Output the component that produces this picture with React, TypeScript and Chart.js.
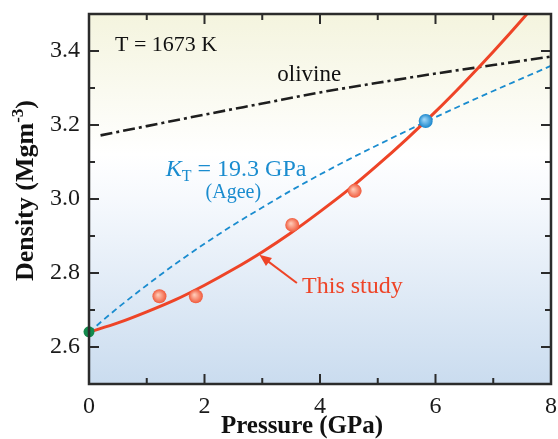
import React, { useEffect, useRef } from "react";
import { Chart, registerables } from "chart.js";

Chart.register(...registerables);

// ---- data ----
const pressureGrid = [0, 0.5, 1, 1.5, 2, 2.5, 3, 3.5, 4, 4.5, 5, 5.5, 6, 6.5, 7, 7.5, 8];
const thisStudyDensity = [2.64, 2.665, 2.695, 2.728, 2.767, 2.81, 2.857, 2.909, 2.966, 3.026, 3.092, 3.162, 3.236, 3.315, 3.398, 3.485, 3.578];
const ageeDensity = [2.64, 2.706, 2.767, 2.825, 2.879, 2.93, 2.977, 3.023, 3.066, 3.107, 3.146, 3.184, 3.221, 3.257, 3.292, 3.326, 3.36];
const olivinePressure = [0.2, 1, 2, 3, 4, 5, 6, 7, 8];
const olivineDensity = [3.172, 3.197, 3.228, 3.258, 3.288, 3.314, 3.339, 3.362, 3.385];
const measuredPressure = [1.22, 1.85, 3.52, 4.6];
const measuredDensity = [2.737, 2.737, 2.93, 3.022];
const ageePointPressure = [5.83];
const ageePointDensity = [3.211];
const zeroPressure = [0];
const zeroDensity = [2.641];
const xMajorTicks = [0, 2, 4, 6, 8];
const yMajorTicks = [2.6, 2.8, 3.0, 3.2, 3.4];

const SERIF = "'Liberation Serif', 'Times New Roman', serif";
const RED = "#ee4427";
const BLUE = "#1a8ccf";

const toXY = (xs: number[], ys: number[]) => xs.map((x, i) => ({ x, y: ys[i] }));

function ballColor(light: string, dark: string, r: number) {
  return (c: any) => {
    const ch = c.chart;
    const raw = c.raw;
    if (!raw || !ch.scales || !ch.scales.x || !ch.scales.y) return dark;
    const px = ch.scales.x.getPixelForValue(raw.x);
    const py = ch.scales.y.getPixelForValue(raw.y);
    if (!isFinite(px) || !isFinite(py)) return dark;
    const g = ch.ctx.createRadialGradient(px - 1.5, py - 1.5, 0.5, px, py, r);
    g.addColorStop(0, light);
    g.addColorStop(1, dark);
    return g;
  };
}

const decorPlugin = {
  id: "decor",
  beforeDraw(chart: any) {
    const { ctx, chartArea: a } = chart;
    const g = ctx.createLinearGradient(0, a.top, 0, a.bottom);
    g.addColorStop(0, "#f4f4de");
    g.addColorStop(0.38, "#ffffff");
    g.addColorStop(0.5, "#f6f9fd");
    g.addColorStop(1, "#cadcef");
    ctx.save();
    ctx.fillStyle = g;
    ctx.fillRect(a.left, a.top, a.right - a.left, a.bottom - a.top);
    ctx.restore();
  },
  afterDraw(chart: any) {
    const { ctx, chartArea: a, scales } = chart;
    const xs = scales.x;
    const ys = scales.y;
    ctx.save();
    // frame
    ctx.strokeStyle = "#2b2b2b";
    ctx.lineWidth = 2.5;
    ctx.strokeRect(a.left, a.top, a.right - a.left, a.bottom - a.top);
    // inward ticks
    ctx.lineWidth = 2;
    ctx.beginPath();
    xs.ticks.forEach((t: any) => {
      const px = xs.getPixelForValue(t.value);
      const len = xMajorTicks.some((m) => Math.abs(m - t.value) < 1e-6) ? 10 : 6;
      ctx.moveTo(px, a.bottom);
      ctx.lineTo(px, a.bottom - len);
      ctx.moveTo(px, a.top);
      ctx.lineTo(px, a.top + len);
    });
    ys.ticks.forEach((t: any) => {
      const py = ys.getPixelForValue(t.value);
      const len = yMajorTicks.some((m) => Math.abs(m - t.value) < 1e-6) ? 10 : 6;
      ctx.moveTo(a.left, py);
      ctx.lineTo(a.left + len, py);
      ctx.moveTo(a.right, py);
      ctx.lineTo(a.right - len, py);
    });
    ctx.stroke();

    const X = (v: number) => xs.getPixelForValue(v);
    const Y = (v: number) => ys.getPixelForValue(v);

    // annotations
    ctx.textBaseline = "alphabetic";
    ctx.textAlign = "left";
    ctx.fillStyle = "#111";
    ctx.font = `22px ${SERIF}`;
    ctx.fillText("T = 1673 K", X(0.45), Y(3.4));
    ctx.font = `23px ${SERIF}`;
    ctx.fillText("olivine", X(3.26), Y(3.32));

    // K_T label
    ctx.fillStyle = BLUE;
    let x0 = X(1.33);
    const yb = Y(3.061);
    ctx.font = `italic 24px ${SERIF}`;
    ctx.fillText("K", x0, yb);
    x0 += ctx.measureText("K").width;
    ctx.font = `16px ${SERIF}`;
    ctx.fillText("T", x0, yb + 5);
    x0 += ctx.measureText("T").width;
    ctx.font = `24px ${SERIF}`;
    ctx.fillText(" = 19.3 GPa", x0, yb);
    ctx.font = `20px ${SERIF}`;
    ctx.textAlign = "center";
    ctx.fillText("(Agee)", X(2.5), Y(3.004));

    // This study + arrow
    ctx.textAlign = "left";
    ctx.fillStyle = RED;
    ctx.font = `24px ${SERIF}`;
    ctx.fillText("This study", X(3.69), Y(2.746));
    const sx = X(3.6), sy = Y(2.773), tx = X(2.95), ty = Y(2.849);
    const ang = Math.atan2(ty - sy, tx - sx);
    ctx.strokeStyle = RED;
    ctx.lineWidth = 2;
    ctx.beginPath();
    ctx.moveTo(sx, sy);
    ctx.lineTo(tx - 8 * Math.cos(ang), ty - 8 * Math.sin(ang));
    ctx.stroke();
    ctx.beginPath();
    ctx.moveTo(tx, ty);
    ctx.lineTo(tx - 12 * Math.cos(ang) + 5 * Math.sin(ang), ty - 12 * Math.sin(ang) - 5 * Math.cos(ang));
    ctx.lineTo(tx - 12 * Math.cos(ang) - 5 * Math.sin(ang), ty - 12 * Math.sin(ang) + 5 * Math.cos(ang));
    ctx.closePath();
    ctx.fillStyle = RED;
    ctx.fill();

    // axis titles
    ctx.fillStyle = "#111";
    ctx.font = `bold 25px ${SERIF}`;
    ctx.textAlign = "center";
    ctx.fillText("Pressure (GPa)", 302, 433);

    ctx.save();
    ctx.translate(33, 281);
    ctx.rotate(-Math.PI / 2);
    ctx.textAlign = "left";
    ctx.font = `bold 26px ${SERIF}`;
    let p = 0;
    ctx.fillText("Density (Mgm", p, 0);
    p += ctx.measureText("Density (Mgm").width;
    ctx.font = `bold 17px ${SERIF}`;
    ctx.fillText("-3", p, -10);
    p += ctx.measureText("-3").width;
    ctx.font = `bold 26px ${SERIF}`;
    ctx.fillText(")", p, 0);
    ctx.restore();

    ctx.restore();
  },
};

export default function App() {
  const ref = useRef<HTMLCanvasElement | null>(null);
  useEffect(() => {
    if (!ref.current) return;
    const chart = new Chart(ref.current, {
      type: "line",
      data: {
        datasets: [
          {
            label: "olivine",
            data: toXY(olivinePressure, olivineDensity),
            borderColor: "#1e1e1e",
            borderWidth: 2.6,
            borderDash: [12, 4, 3, 4],
            pointRadius: 0,
            cubicInterpolationMode: "monotone",
            order: 5,
          },
          {
            label: "Agee",
            data: toXY(pressureGrid, ageeDensity),
            borderColor: BLUE,
            borderWidth: 1.8,
            borderDash: [6, 4],
            pointRadius: 0,
            cubicInterpolationMode: "monotone",
            order: 4,
          },
          {
            label: "This study",
            data: toXY(pressureGrid, thisStudyDensity),
            borderColor: RED,
            borderWidth: 3,
            pointRadius: 0,
            cubicInterpolationMode: "monotone",
            order: 3,
          },
          {
            label: "measured",
            data: toXY(measuredPressure, measuredDensity),
            showLine: false,
            pointRadius: 7,
            pointBorderWidth: 0,
            pointBorderColor: "rgba(0,0,0,0)",
            pointBackgroundColor: ballColor("#ffc8b4", "#f05a3c", 7),
            order: 2,
          },
          {
            label: "Agee point",
            data: toXY(ageePointPressure, ageePointDensity),
            showLine: false,
            pointRadius: 7,
            pointBorderWidth: 0,
            pointBorderColor: "rgba(0,0,0,0)",
            pointBackgroundColor: ballColor("#9fd6f7", "#1a86cc", 7),
            order: 1,
            clip: false as any,
          },
          {
            label: "zero",
            data: toXY(zeroPressure, zeroDensity),
            showLine: false,
            pointRadius: 5.5,
            pointBorderWidth: 0,
            pointBorderColor: "rgba(0,0,0,0)",
            pointBackgroundColor: "#138a4c",
            order: 0,
            clip: false as any,
          },
        ],
      },
      options: {
        animation: false,
        responsive: false,
        events: [],
        layout: { padding: { top: 14, right: 5, left: 0, bottom: 0 } },
        plugins: { legend: { display: false }, tooltip: { enabled: false }, title: { display: false } },
        scales: {
          x: {
            type: "linear",
            min: 0,
            max: 8,
            grid: { display: false, drawTicks: false },
            border: { display: false },
            ticks: {
              stepSize: 1,
              padding: 8,
              autoSkip: false,
              maxRotation: 0,
              color: "#1a1a1a",
              font: { family: SERIF, size: 24 },
              callback: (v: any) => (Math.round(v) % 2 === 0 ? String(Math.round(v)) : ""),
            },
            afterFit: (s: any) => {
              s.height = 55;
              s.paddingLeft = 0;
              s.paddingRight = 0;
            },
          },
          y: {
            type: "linear",
            min: 2.5,
            max: 3.5,
            grid: { display: false, drawTicks: false },
            border: { display: false },
            ticks: {
              stepSize: 0.1,
              padding: 9,
              autoSkip: false,
              color: "#1a1a1a",
              font: { family: SERIF, size: 24 },
              callback: (v: any) => {
                const k = Math.round(v * 10);
                return k % 2 === 0 && k > 25 && k < 35 ? (k / 10).toFixed(1) : "";
              },
            },
            afterFit: (s: any) => {
              s.width = 89;
              s.paddingTop = 0;
              s.paddingBottom = 0;
            },
          },
        },
      },
      plugins: [decorPlugin],
    });
    return () => chart.destroy();
  }, []);
  return (
    <div style={{ position: "fixed", left: 0, top: 0, width: 558, height: 439, background: "#fff" }}>
      <canvas ref={ref} width={558} height={439} style={{ display: "block", width: 558, height: 439 }} />
    </div>
  );
}
